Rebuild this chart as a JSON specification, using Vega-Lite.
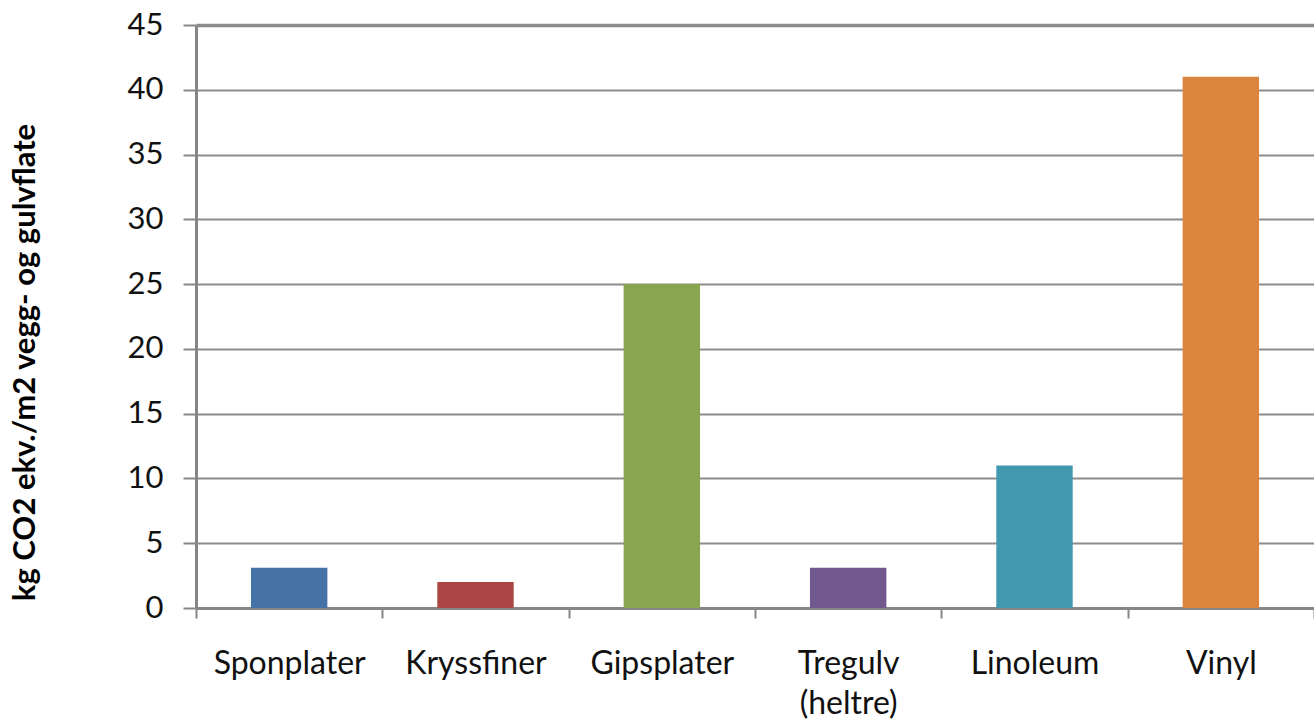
{
  "$schema": "https://vega.github.io/schema/vega-lite/v6.json",
  "autosize": {"type": "none"},
  "width": 1118,
  "height": 583,
  "padding": {"left": 196, "top": 25, "right": 0, "bottom": 113},
  "background": "white",
  "config": {
    "view": {"stroke": null},
    "font": "Lato"
  },
  "data": {
    "values": [
      {"material": "Sponplater", "co2": 3.1},
      {"material": "Kryssfiner", "co2": 2.0},
      {"material": "Gipsplater", "co2": 25.0},
      {"material": "Tregulv (heltre)", "co2": 3.1},
      {"material": "Linoleum", "co2": 11.0},
      {"material": "Vinyl", "co2": 41.0}
    ]
  },
  "mark": {"type": "bar", "width": {"band": 0.41}},
  "encoding": {
    "x": {
      "field": "material",
      "type": "nominal",
      "sort": null,
      "scale": {"paddingInner": 0, "paddingOuter": 0},
      "axis": {
        "title": null,
        "labelAngle": 0,
        "labelFont": "Lato",
        "labelFontSize": 32,
        "labelColor": "#111111",
        "labelPadding": 30,
        "labelBaseline": "top",
        "labelLineHeight": 40,
        "labelExpr": "datum.value == 'Tregulv (heltre)' ? ['Tregulv', '(heltre)'] : datum.value",
        "domainColor": "#868686",
        "domainWidth": 3,
        "tickBand": "extent",
        "tickColor": "#868686",
        "tickWidth": 2,
        "tickSize": 10,
        "grid": false
      }
    },
    "y": {
      "field": "co2",
      "type": "quantitative",
      "scale": {"domain": [0, 45], "nice": false},
      "axis": {
        "title": "kg CO2 ekv./m2 vegg- og gulvflate",
        "titleFont": "Lato",
        "titleFontSize": 31,
        "titleFontWeight": "bold",
        "titleColor": "#000000",
        "titleX": -171,
        "titleY": 337,
        "titleAlign": "center",
        "titleBaseline": "middle",
        "titleAngle": 270,
        "values": [0, 5, 10, 15, 20, 25, 30, 35, 40, 45],
        "labelFont": "Lato",
        "labelFontSize": 31,
        "labelColor": "#111111",
        "labelPadding": 20,
        "domainColor": "#868686",
        "domainWidth": 3,
        "tickColor": "#868686",
        "tickWidth": 2,
        "tickSize": 13,
        "grid": true,
        "gridColor": "#8c8c8c",
        "gridWidth": {"condition": {"test": "datum.value === 45", "value": 3.5}, "value": 2}
      }
    },
    "color": {
      "field": "material",
      "type": "nominal",
      "sort": null,
      "legend": null,
      "scale": {
        "domain": ["Sponplater", "Kryssfiner", "Gipsplater", "Tregulv (heltre)", "Linoleum", "Vinyl"],
        "range": ["#4572A7", "#AA4643", "#89A54E", "#71588F", "#4198AF", "#DB843D"]
      }
    }
  }
}
